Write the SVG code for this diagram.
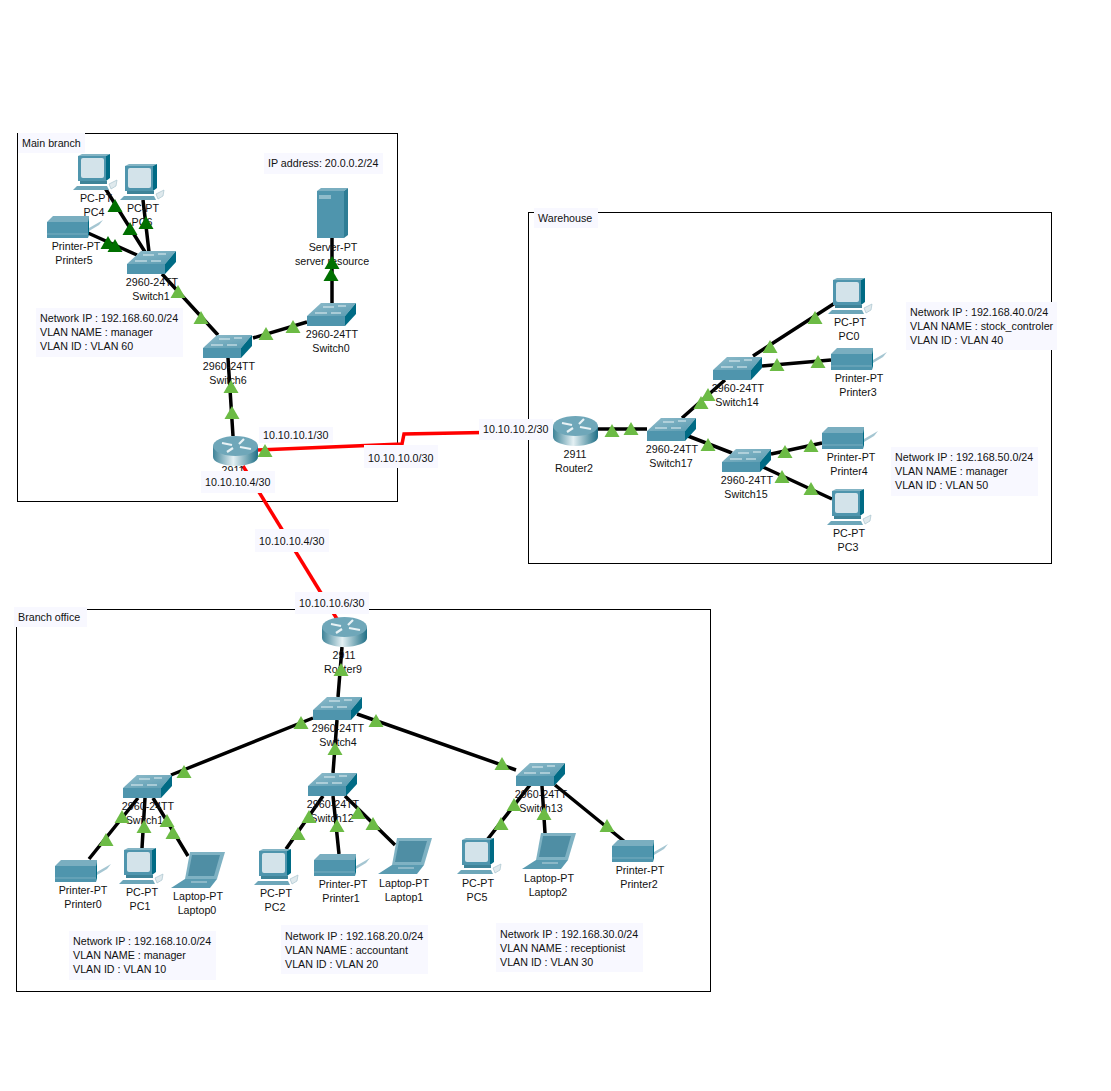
<svg xmlns="http://www.w3.org/2000/svg" width="1111" height="1091" viewBox="0 0 1111 1091">
<style>
text{font-family:"Liberation Sans",Arial,sans-serif;font-size:10.700px;fill:#111}
.n text,text.c{text-anchor:middle}
.f{fill:#fff;stroke:#000;stroke-width:1}
.b{fill:#f8f8ff}
.l{stroke:#000;stroke-width:3.500;fill:none}
.r{stroke:#f00;stroke-width:3.500;fill:none}
.g{fill:#6cbb45}
.d{fill:#007000}
</style>
<defs>
<linearGradient id="rg" x1="0" x2="1" y1="0" y2="0"><stop offset="0" stop-color="#3e8398"/><stop offset=".45" stop-color="#e4f0f3"/><stop offset="1" stop-color="#1f6f86"/></linearGradient>
<linearGradient id="tg" x1="0" x2="1" y1="0" y2="1"><stop offset="0" stop-color="#8fbccb"/><stop offset="1" stop-color="#5a9bb1"/></linearGradient>
<polygon id="t" points="0,-7 7.500,6 -7.500,6"/>
<g id="sw">
<polygon points="0,13 14,0 49,0 38,13" fill="url(#tg)"/>
<rect x="0" y="13" width="38" height="10" fill="#4f95ad"/>
<polygon points="38,13 49,0 49,11 38,23" fill="#006b85"/>
<path d="M16 4H27M31 3H39M8 10H20M24 10H34" stroke="#e6f1f4" stroke-width="1" fill="none"/>
</g>
<g id="ro">
<path d="M0 10V21A22.5 9 0 0 0 45 21V10Z" fill="url(#rg)"/>
<ellipse cx="22.500" cy="10" rx="22.500" ry="10" fill="#6fa7b9"/>
<path d="M9 7L19 9M14 16L20 12M26 8L31 3M27 11L38 13" stroke="#e8f2f5" stroke-width="2.200" fill="none"/>
</g>
<g id="pc">
<polygon points="5,2 9,0 37,0 33,2" fill="#83b4c4"/>
<rect x="5" y="2" width="28" height="25" fill="#4f95ad"/>
<rect x="8" y="4" width="23" height="20" rx="2" fill="#d3e3ea"/>
<polygon points="33,2 37,0 37,24 33,27" fill="#006b85"/>
<rect x="7" y="27" width="27" height="3" fill="#3e8398"/>
<polygon points="4,32 34,32 36,36 0,36" fill="#6da6b9"/>
<path d="M36 30L44 26L43 32L38 35Z" fill="#dfe9ed" stroke="#a9c4ce" stroke-width=".7"/>
</g>
<g id="pr">
<polygon points="0,6 6,0 42,0 41,6" fill="#7aaec0"/>
<rect x="0" y="6" width="41" height="16" fill="#4f95ad"/>
<path d="M0 18H41" stroke="#7aaec0"/>
<polygon points="41,6 42,0 42,18 41,22" fill="#006b85"/>
<path d="M42 12L56 4L52 9L42 15Z" fill="#a5c6d2"/>
</g>
<g id="se">
<polygon points="0,3 4,0 31,0 27,3" fill="#7aaec0"/>
<rect x="0" y="3" width="27" height="47" fill="#4f95ad"/>
<polygon points="27,3 31,0 31,47 27,50" fill="#2e7d95"/>
<rect x="2" y="7" width="12" height="4" fill="#8fbccb"/>
</g>
<g id="la">
<polygon points="19,1 54,1 46,28 14,28" fill="#7fb2c3"/>
<polygon points="21,4 49,4 43,25 17,25" fill="#4f8ea4"/>
<polygon points="0,37 14,28 46,28 39,37" fill="#5a9bb1"/>
<path d="M20 31H36" stroke="#bcd5de"/>
</g>
</defs>

<rect class="f" x="17.500" y="133.500" width="380" height="368"/>
<rect class="f" x="528.500" y="212.500" width="523" height="351"/>
<rect class="f" x="16.500" y="609.500" width="694" height="382"/>

<g id="connectors">
<path class="r" d="M258 450L402 444L404 434L555 431"/>
<path class="r" d="M243 466L337 619"/>
<path class="l" d="M105 188L145 252M143 200L149 252M88 233L137 255M162 274L218 335M228 358L233 436M253 338L307 322M332 303V238"/>
<path class="l" d="M597 429H647M682 418L725 380M688 436L732 453M753 356L835 303M762 366L831 360M771 454L822 443M763 467L832 499"/>
<path class="l" d="M342 647L338 697M313 718L171 775M357 714L516 770M337 720L333 773M138 798L89 859M145 798L142 848M153 798L188 856M323 796L286 849M333 796L339 854M345 796L395 845M530 785L487 840M542 786L545 833M555 785L625 842"/>
</g>

<g class="n">
<g id="pc4"><use href="#pc" x="73" y="154"/><text x="96" y="202">PC-PT</text><text x="94" y="216">PC4</text></g>
<g id="pc6"><use href="#pc" x="120" y="164"/><text x="143" y="212">PC-PT</text><text x="142" y="226">PC6</text></g>
<g id="printer5"><use href="#pr" x="47" y="216"/><text x="76" y="250">Printer-PT</text><text x="74" y="264">Printer5</text></g>
<g id="switch1"><use href="#sw" x="127" y="251"/><text x="152" y="286">2960-24TT</text><text x="151" y="300">Switch1</text></g>
<g id="switch6"><use href="#sw" x="203" y="335"/><text x="229" y="370">2960-24TT</text><text x="228" y="384">Switch6</text></g>
<g id="switch0"><use href="#sw" x="307" y="303"/><text x="332" y="338">2960-24TT</text><text x="331" y="352">Switch0</text></g>
<g id="server"><use href="#se" x="317" y="188"/><text x="333" y="251">Server-PT</text><text x="332" y="265">server resource</text></g>
<g id="router0"><use href="#ro" x="213" y="436"/><text x="233" y="474">2911</text></g>

<g id="pc0"><use href="#pc" x="828" y="278"/><text x="850" y="326">PC-PT</text><text x="849" y="340">PC0</text></g>
<g id="printer3"><use href="#pr" x="831" y="348"/><text x="859" y="382">Printer-PT</text><text x="858" y="396">Printer3</text></g>
<g id="switch14"><use href="#sw" x="713" y="357"/><text x="738" y="392">2960-24TT</text><text x="737" y="406">Switch14</text></g>
<g id="switch17"><use href="#sw" x="647" y="418"/><text x="672" y="453">2960-24TT</text><text x="671" y="467">Switch17</text></g>
<g id="switch15"><use href="#sw" x="722" y="449"/><text x="747" y="484">2960-24TT</text><text x="746" y="498">Switch15</text></g>
<g id="router2"><use href="#ro" x="553" y="416"/><text x="575" y="458">2911</text><text x="574" y="472">Router2</text></g>
<g id="printer4"><use href="#pr" x="822" y="427"/><text x="851" y="461">Printer-PT</text><text x="849" y="475">Printer4</text></g>
<g id="pc3"><use href="#pc" x="827" y="489"/><text x="849" y="537">PC-PT</text><text x="848" y="551">PC3</text></g>

<g id="router9"><use href="#ro" x="322" y="617"/><text x="344" y="659">2911</text><text x="343" y="673">Router9</text></g>
<g id="switch4"><use href="#sw" x="313" y="697"/><text x="338" y="732">2960-24TT</text><text x="338" y="746">Switch4</text></g>
<g id="switch11"><use href="#sw" x="123" y="775"/><text x="148" y="810">2960-24TT</text><text x="147" y="824">Switch11</text></g>
<g id="switch12"><use href="#sw" x="308" y="773"/><text x="333" y="808">2960-24TT</text><text x="332" y="822">Switch12</text></g>
<g id="switch13"><use href="#sw" x="516" y="763"/><text x="541" y="798">2960-24TT</text><text x="541" y="812">Switch13</text></g>
<g id="printer0"><use href="#pr" x="55" y="860"/><text x="83" y="894">Printer-PT</text><text x="83" y="908">Printer0</text></g>
<g id="pc1"><use href="#pc" x="119" y="848"/><text x="142" y="896">PC-PT</text><text x="140" y="910">PC1</text></g>
<g id="laptop0"><use href="#la" x="171" y="851"/><text x="198" y="900">Laptop-PT</text><text x="197" y="914">Laptop0</text></g>
<g id="pc2"><use href="#pc" x="254" y="849"/><text x="276" y="897">PC-PT</text><text x="275" y="911">PC2</text></g>
<g id="printer1"><use href="#pr" x="314" y="854"/><text x="343" y="888">Printer-PT</text><text x="341" y="902">Printer1</text></g>
<g id="laptop1"><use href="#la" x="378" y="837"/><text x="404" y="887">Laptop-PT</text><text x="404" y="901">Laptop1</text></g>
<g id="pc5"><use href="#pc" x="457" y="838"/><text x="478" y="887">PC-PT</text><text x="477" y="901">PC5</text></g>
<g id="laptop2"><use href="#la" x="522" y="832"/><text x="549" y="882">Laptop-PT</text><text x="548" y="896">Laptop2</text></g>
<g id="printer2"><use href="#pr" x="612" y="840"/><text x="640" y="874">Printer-PT</text><text x="639" y="888">Printer2</text></g>
</g>

<g id="notes">
<rect class="b" x="18" y="133" width="67" height="20"/><text x="22" y="147">Main branch</text>
<rect class="b" x="264" y="153" width="119" height="21"/><text x="268" y="167">IP address: 20.0.0.2/24</text>
<rect class="b" x="36" y="308" width="147" height="49"/><text x="40" y="322">Network IP : 192.168.60.0/24</text><text x="40" y="336">VLAN NAME : manager</text><text x="40" y="350">VLAN ID : VLAN 60</text>
<rect class="b" x="259" y="427" width="74" height="16"/><text x="263" y="439">10.10.10.1/30</text>
<rect class="b" x="364" y="445" width="74" height="23"/><text x="368" y="462">10.10.10.0/30</text>
<rect class="b" x="201" y="471" width="74" height="22"/><text x="205" y="486">10.10.10.4/30</text>
<rect class="b" x="255" y="529" width="74" height="23"/><text x="259" y="545">10.10.10.4/30</text>
<rect class="b" x="479" y="419" width="74" height="21"/><text x="483" y="433">10.10.10.2/30</text>
<rect class="b" x="295" y="592" width="74" height="22"/><text x="299" y="607">10.10.10.6/30</text>
<rect class="b" x="534" y="208" width="64" height="20"/><text x="538" y="222">Warehouse</text>
<rect class="b" x="14" y="607" width="73" height="20"/><text x="18" y="621">Branch office</text>
<rect class="b" x="906" y="302" width="151" height="48"/><text x="910" y="316">Network IP : 192.168.40.0/24</text><text x="910" y="330">VLAN NAME : stock_controler</text><text x="910" y="344">VLAN ID : VLAN 40</text>
<rect class="b" x="891" y="447" width="147" height="49"/><text x="895" y="461">Network IP : 192.168.50.0/24</text><text x="895" y="475">VLAN NAME : manager</text><text x="895" y="489">VLAN ID : VLAN 50</text>
<rect class="b" x="69" y="931" width="147" height="49"/><text x="73" y="945">Network IP : 192.168.10.0/24</text><text x="73" y="959">VLAN NAME : manager</text><text x="73" y="973">VLAN ID : VLAN 10</text>
<rect class="b" x="281" y="925" width="147" height="49"/><text x="285" y="940">Network IP : 192.168.20.0/24</text><text x="285" y="954">VLAN NAME : accountant</text><text x="285" y="968">VLAN ID : VLAN 20</text>
<rect class="b" x="496" y="923" width="147" height="49"/><text x="500" y="938">Network IP : 192.168.30.0/24</text><text x="500" y="952">VLAN NAME : receptionist</text><text x="500" y="966">VLAN ID : VLAN 30</text>
</g>

<g id="link-lights">
<g class="d">
<use href="#t" x="115" y="206"/><use href="#t" x="130" y="229"/><use href="#t" x="146" y="223"/><use href="#t" x="108" y="243"/><use href="#t" x="115" y="246"/><use href="#t" x="332" y="263"/><use href="#t" x="331" y="275"/>
</g>
<g class="g">
<use href="#t" x="178" y="292"/><use href="#t" x="201" y="318"/><use href="#t" x="266" y="334"/><use href="#t" x="293" y="327"/><use href="#t" x="231" y="387"/><use href="#t" x="232" y="413"/><use href="#t" x="265" y="451"/>
<use href="#t" x="815" y="318"/><use href="#t" x="770" y="347"/><use href="#t" x="777" y="365"/><use href="#t" x="818" y="362"/><use href="#t" x="708" y="395"/><use href="#t" x="701" y="403"/><use href="#t" x="612" y="431"/><use href="#t" x="631" y="429"/><use href="#t" x="708" y="445"/><use href="#t" x="785" y="452"/><use href="#t" x="811" y="446"/><use href="#t" x="782" y="477"/><use href="#t" x="811" y="489"/>
<use href="#t" x="341" y="670"/><use href="#t" x="301" y="723"/><use href="#t" x="376" y="721"/><use href="#t" x="335" y="749"/><use href="#t" x="184" y="772"/><use href="#t" x="502" y="764"/>
<use href="#t" x="122" y="817"/><use href="#t" x="106" y="840"/><use href="#t" x="144" y="827"/><use href="#t" x="167" y="821"/><use href="#t" x="173" y="833"/>
<use href="#t" x="309" y="817"/><use href="#t" x="298" y="834"/><use href="#t" x="337" y="826"/><use href="#t" x="358" y="813"/><use href="#t" x="373" y="824"/>
<use href="#t" x="514" y="805"/><use href="#t" x="501" y="824"/><use href="#t" x="544" y="814"/><use href="#t" x="607" y="826"/>
</g>
</g>
</svg>
